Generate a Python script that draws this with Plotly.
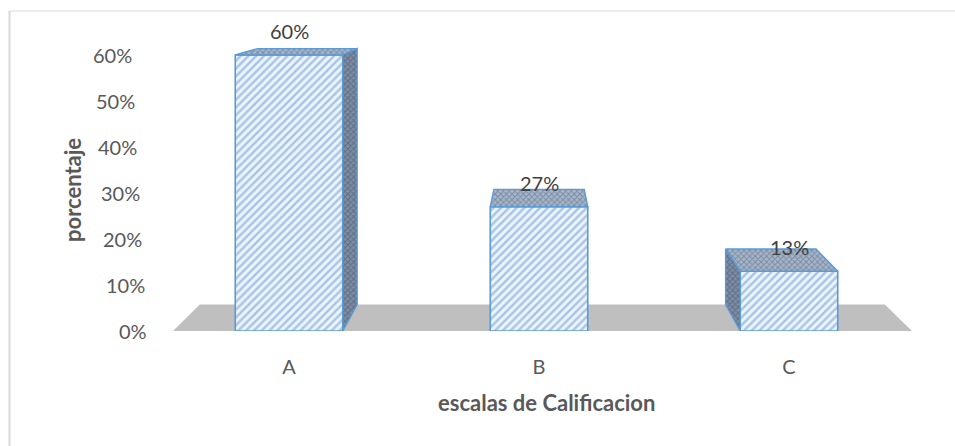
import plotly.graph_objects as go

# Data
categories = ["A", "B", "C"]
values = [0.60, 0.27, 0.13]
y_ticks = [0.0, 0.1, 0.2, 0.3, 0.4, 0.5, 0.6]
y_tick_labels = ["0%", "10%", "20%", "30%", "40%", "50%", "60%"]
x_title = "escalas de Calificacion"
y_title = "porcentaje"

# Styling / geometry
W, H = 955, 446
M_L, M_R, M_T, M_B = 150, 25, 30, 115
X_RANGE = [-0.556, 2.564]
Y_RANGE = [0.0, 0.6543]
positions = [0.0, 1.0, 2.0]
widths = [0.43, 0.39, 0.39]
FONT = "Lato"
EDGE = "#5b9bd5"
TICK_SIZE = 20
TITLE_SIZE = 22

# Simple perspective: back edges recede toward a vanishing point
VX, VY, T = 1.004, 0.789, 0.073


def proj(x, y):
    return x + T * (VX - x), y + T * (VY - y)


def px_to_paper_x(px):
    return (px - M_L) / (W - M_L - M_R)


def px_to_paper_y(py):
    return (H - M_B - py) / (H - M_T - M_B)


fig = go.Figure()

# Front faces of the columns
fig.add_trace(go.Bar(
    x=positions, y=values, width=widths,
    marker=dict(
        color="#eef4fc",
        pattern=dict(shape="/", fgcolor="#5f95d3", bgcolor="#eef4fc",
                     size=5.5, solidity=0.45),
        line=dict(color=EDGE, width=1.6),
    ),
    hoverinfo="skip", showlegend=False,
))

# Top and side faces
face_pattern = dict(shape="x", fgcolor="#4a6284", bgcolor="#a9b6c8",
                    size=4, solidity=0.45)
side_pattern = dict(shape="x", fgcolor="#3b4d66", bgcolor="#7f8ea4",
                    size=4, solidity=0.45)

for c, w, v in zip(positions, widths, values):
    h = w / 2
    xl, xr = c - h, c + h
    faces = []
    tlx, tly = proj(xl, v)
    trx, try_ = proj(xr, v)
    faces.append(([xl, xr, trx, tlx, xl], [v, v, try_, tly, v], face_pattern))
    if xr < VX:
        bx, by = proj(xr, 0)
        faces.append(([xr, xr, trx, bx, xr], [0, v, try_, by, 0], side_pattern))
    if xl > VX:
        bx, by = proj(xl, 0)
        faces.append(([xl, xl, tlx, bx, xl], [0, v, tly, by, 0], side_pattern))
    for fx, fy, pat in faces:
        fig.add_trace(go.Scatter(
            x=fx, y=fy, mode="lines", fill="toself",
            fillcolor=pat["bgcolor"], fillpattern=pat,
            line=dict(color=EDGE, width=1.4),
            hoverinfo="skip", showlegend=False,
        ))

# Floor
fl_x0, fl_x1 = -0.464, 2.492
b0x, b0y = proj(fl_x0, 0)
b1x, b1y = proj(fl_x1, 0)
floor_path = f"M {fl_x0} 0 L {fl_x1} 0 L {b1x} {b1y} L {b0x} {b0y} Z"

shapes = [
    dict(type="path", path=floor_path, xref="x", yref="y",
         fillcolor="#bfbfbf", line=dict(width=0), layer="below"),
    # chart frame
    dict(type="line", xref="paper", yref="paper",
         x0=px_to_paper_x(9.5), x1=px_to_paper_x(9.5),
         y0=px_to_paper_y(11), y1=px_to_paper_y(460),
         line=dict(color="#d9d9d9", width=2)),
    dict(type="line", xref="paper", yref="paper",
         x0=px_to_paper_x(9.5), x1=px_to_paper_x(970),
         y0=px_to_paper_y(11), y1=px_to_paper_y(11),
         line=dict(color="#d9d9d9", width=1.2)),
]

annotations = []
# Y tick labels, staggered with depth
for k, (tv, tl) in enumerate(zip(y_ticks, y_tick_labels)):
    annotations.append(dict(
        x=px_to_paper_x(149 - 2.5 * k), xref="paper", y=tv, yref="y",
        text=tl, showarrow=False, xanchor="right", yanchor="middle",
        font=dict(family=FONT, size=TICK_SIZE, color="#595959"),
    ))

# Value labels
for c, v in zip(positions, values):
    annotations.append(dict(
        x=c, y=v, xref="x", yref="y", text=f"{round(v * 100)}%",
        showarrow=False, xanchor="center", yanchor="middle", yshift=24,
        font=dict(family=FONT, size=TICK_SIZE, color="#404040"),
    ))

# Axis titles
annotations.append(dict(
    x=px_to_paper_x(546), y=px_to_paper_y(402), xref="paper", yref="paper",
    text=f"<b>{x_title}</b>", showarrow=False,
    xanchor="center", yanchor="middle",
    font=dict(family=FONT, size=TITLE_SIZE, color="#595959"),
))
annotations.append(dict(
    x=px_to_paper_x(73), y=px_to_paper_y(190), xref="paper", yref="paper",
    text=f"<b>{y_title}</b>", showarrow=False, textangle=-90,
    xanchor="center", yanchor="middle",
    font=dict(family=FONT, size=TITLE_SIZE, color="#595959"),
))

fig.update_layout(
    width=W, height=H,
    margin=dict(l=M_L, r=M_R, t=M_T, b=M_B),
    paper_bgcolor="white", plot_bgcolor="white",
    shapes=shapes, annotations=annotations,
    xaxis=dict(range=X_RANGE, tickvals=positions, ticktext=categories,
               showgrid=False, zeroline=False, showline=False, ticks="",
               ticklabelstandoff=22,
               tickfont=dict(family=FONT, size=TICK_SIZE, color="#595959")),
    yaxis=dict(range=Y_RANGE, showgrid=False, zeroline=False,
               showline=False, showticklabels=False, ticks=""),
)

fig.write_html("out.html")
